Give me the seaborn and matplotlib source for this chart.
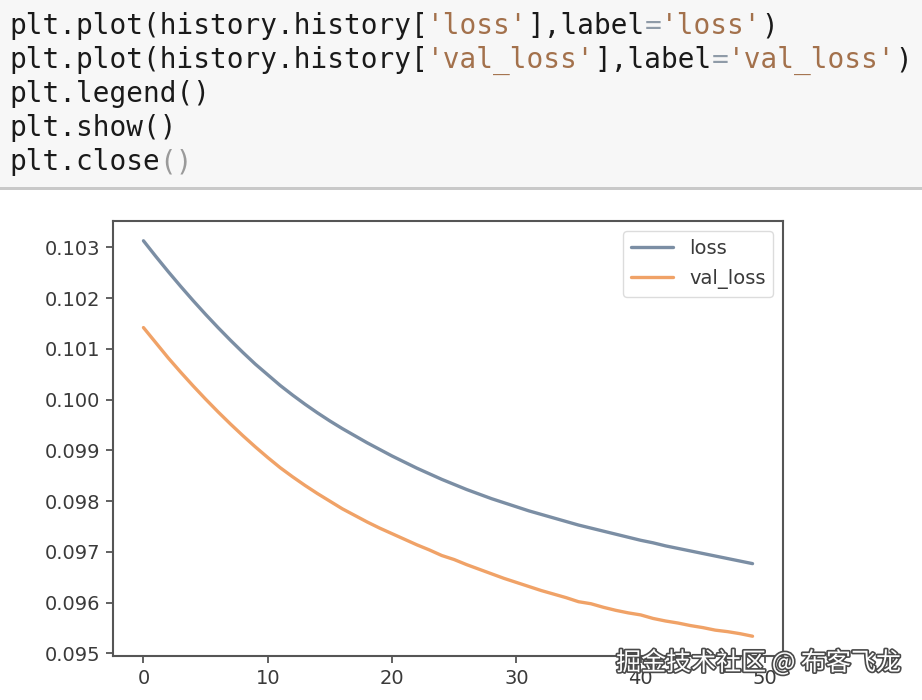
import matplotlib
matplotlib.use("Agg")
import matplotlib.pyplot as plt
import matplotlib.patheffects as pe
from matplotlib.patches import Rectangle
import seaborn as sns
import pandas as pd

# ---- data ----
loss = [0.10313, 0.10282, 0.10252, 0.10223, 0.10195, 0.10168, 0.10142, 0.10117, 0.10093, 0.10070,
        0.10049, 0.10028, 0.10009, 0.09991, 0.09974, 0.09958, 0.09943, 0.09929, 0.09915, 0.09902,
        0.09889, 0.09877, 0.09865, 0.09854, 0.09843, 0.09833, 0.09823, 0.09814, 0.09805, 0.09797,
        0.09789, 0.09781, 0.09774, 0.09767, 0.09760, 0.09753, 0.09747, 0.09741, 0.09735, 0.09729,
        0.09723, 0.09718, 0.09712, 0.09707, 0.09702, 0.09697, 0.09692, 0.09687, 0.09682, 0.09677]
val_loss = [0.10142, 0.10112, 0.10082, 0.10054, 0.10027, 0.10001, 0.09976, 0.09952, 0.09929, 0.09907,
            0.09886, 0.09866, 0.09848, 0.09831, 0.09815, 0.09800, 0.09785, 0.09772, 0.09759, 0.09747,
            0.09736, 0.09725, 0.09714, 0.09704, 0.09693, 0.09685, 0.09675, 0.09666, 0.09657, 0.09648,
            0.09640, 0.09632, 0.09624, 0.09617, 0.09610, 0.09602, 0.09598, 0.09591, 0.09585, 0.09580,
            0.09576, 0.09569, 0.09564, 0.09560, 0.09555, 0.09551, 0.09546, 0.09543, 0.09539, 0.09534]
series_labels = ["loss", "val_loss"]
y_ticks = [0.095, 0.096, 0.097, 0.098, 0.099, 0.100, 0.101, 0.102, 0.103]
x_ticks = [0, 10, 20, 30, 40, 50]

code_lines = [
    [("plt.plot(history.history[", "k"), ("'loss'", "s"), ("],label", "k"), ("=", "o"), ("'loss'", "s"), (")", "k")],
    [("plt.plot(history.history[", "k"), ("'val_loss'", "s"), ("],label", "k"), ("=", "o"), ("'val_loss'", "s"), (")", "k")],
    [("plt.legend()", "k")],
    [("plt.show()", "k")],
    [("plt.close", "k"), ("()", "p")],
]
watermark = "掘金技术社区 @ 布客飞龙"

# ---- style ----
sns.set_style("ticks")
plt.rcParams["font.family"] = ["DejaVu Sans"]

W, H = 922, 700
fig = plt.figure(figsize=(W / 100, H / 100), dpi=100)
fig.patch.set_facecolor("white")

# code cell background and separator
fig.patches.append(Rectangle((0, 1 - 187 / H), 1, 187 / H, transform=fig.transFigure,
                             facecolor="#f7f7f7", edgecolor="none", zorder=0))
fig.patches.append(Rectangle((0, 1 - 190 / H), 1, 3 / H, transform=fig.transFigure,
                             facecolor="#c9c9c9", edgecolor="none", zorder=0))

colors = {"k": "#1a1a1a", "s": "#a3714c", "o": "#8f9ba8", "p": "#9a9a9a"}
fs_code = 20
char_w = 0.602 * fs_code * 100 / 72
baselines = [34, 68, 102, 136, 170]
for line, base in zip(code_lines, baselines):
    col = 0
    for txt, c in line:
        fig.text((9 + col * char_w) / W, 1 - base / H, txt, fontsize=fs_code,
                 family="DejaVu Sans Mono", color=colors[c], va="baseline", ha="left")
        col += len(txt)

# ---- chart ----
ax = fig.add_axes([113 / W, 1 - 656 / H, (783 - 113) / W, (656 - 221) / H])
df = pd.DataFrame({"epoch": list(range(len(loss))), "loss": loss, "val_loss": val_loss})
line_colors = ["#7b8ea4", "#f0a267"]
for name, c in zip(series_labels, line_colors):
    sns.lineplot(data=df, x="epoch", y=name, ax=ax, color=c, linewidth=2.4, label=name)

ax.set_xlabel("")
ax.set_ylabel("")
ax.margins(x=0.05, y=0.05)
ax.set_xticks(x_ticks)
ax.set_yticks(y_ticks)
ax.set_yticklabels([f"{t:.3f}" for t in y_ticks])
ax.set_xlim(-2.45, 51.45)
for s in ax.spines.values():
    s.set_visible(True)
    s.set_color("#555555")
    s.set_linewidth(1.5)
ax.tick_params(axis="both", labelsize=14, colors="#555555", labelcolor="#3a3a3a",
               length=5, width=1.3, pad=4)

leg = ax.legend(loc="upper right", fontsize=14, frameon=True, fancybox=True,
                handlelength=2.2, labelspacing=0.6, borderaxespad=0.5)
leg.get_frame().set_edgecolor("#d4d4d4")
leg.get_frame().set_linewidth(1.0)
for t in leg.get_texts():
    t.set_color("#3a3a3a")

# watermark
fig.text(901 / W, 1 - 663 / H, watermark, fontsize=18, ha="right", va="center",
         family=["Noto Sans CJK SC", "DejaVu Sans"], color="white",
         path_effects=[pe.withStroke(linewidth=2.4, foreground="#4a4a4a")])

fig.savefig("out.png", dpi=100)
